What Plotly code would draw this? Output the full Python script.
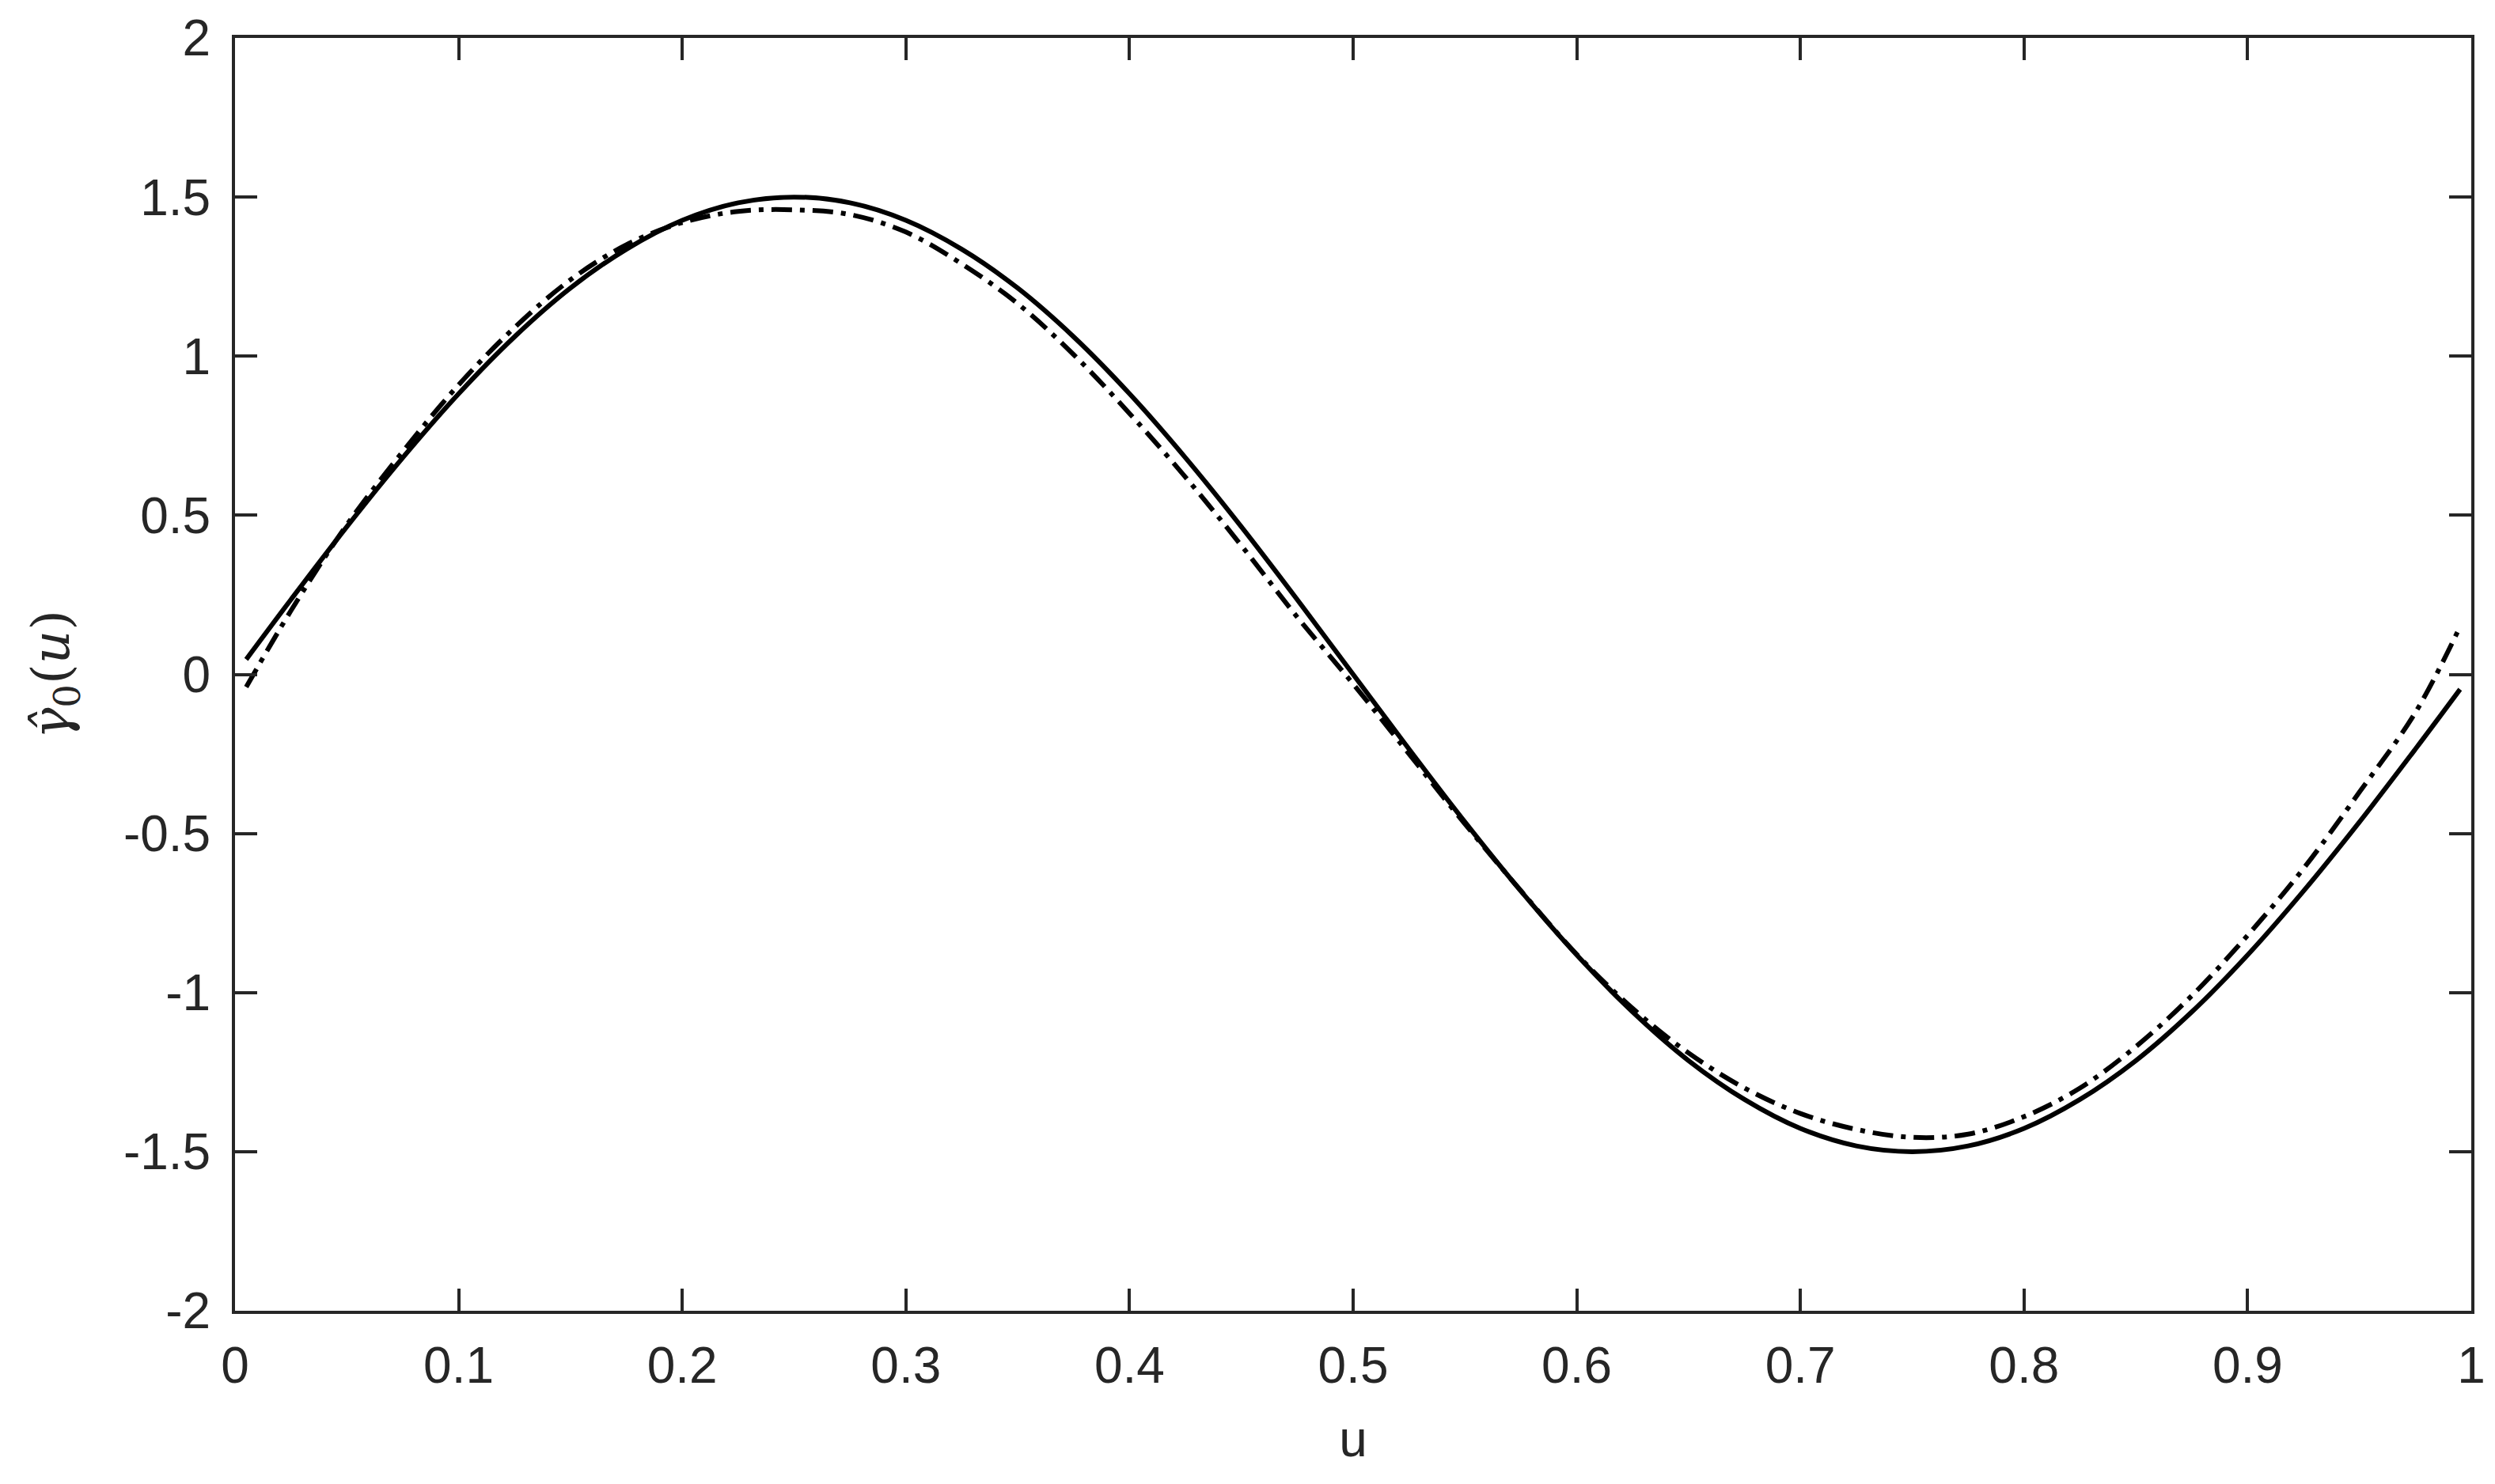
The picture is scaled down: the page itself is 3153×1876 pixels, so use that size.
import plotly.graph_objects as go

u = [0.005, 0.025, 0.05, 0.075, 0.1, 0.125, 0.15, 0.175, 0.2, 0.225, 0.25,
     0.275, 0.3, 0.325, 0.35, 0.375, 0.4, 0.425, 0.45, 0.475, 0.5,
     0.525, 0.55, 0.575, 0.6, 0.625, 0.65, 0.675, 0.7, 0.725, 0.75,
     0.775, 0.8, 0.825, 0.85, 0.875, 0.9, 0.925, 0.95, 0.975, 0.995]

gamma_true = [0.047, 0.235, 0.464, 0.681, 0.882, 1.061, 1.214, 1.336, 1.427, 1.482, 1.5,
              1.482, 1.427, 1.336, 1.214, 1.061, 0.882, 0.681, 0.464, 0.235, 0.0,
              -0.235, -0.464, -0.681, -0.882, -1.061, -1.214, -1.336, -1.427, -1.482, -1.5,
              -1.482, -1.427, -1.336, -1.214, -1.061, -0.882, -0.681, -0.464, -0.235, -0.047]

gamma_est = [-0.04, 0.20, 0.47, 0.70, 0.91, 1.09, 1.24, 1.35, 1.42, 1.455, 1.46,
             1.445, 1.39, 1.29, 1.165, 1.005, 0.82, 0.62, 0.405, 0.18, -0.03,
             -0.25, -0.47, -0.68, -0.88, -1.05, -1.19, -1.30, -1.38, -1.43, -1.455,
             -1.445, -1.39, -1.30, -1.17, -1.01, -0.82, -0.61, -0.37, -0.12, 0.15]

x_ticks = [0, 0.1, 0.2, 0.3, 0.4, 0.5, 0.6, 0.7, 0.8, 0.9, 1]
x_labels = ["0", "0.1", "0.2", "0.3", "0.4", "0.5", "0.6", "0.7", "0.8", "0.9", "1"]
y_ticks = [-2, -1.5, -1, -0.5, 0, 0.5, 1, 1.5, 2]
y_labels = ["-2", "-1.5", "-1", "-0.5", "0", "0.5", "1", "1.5", "2"]

AX = "#262626"
FONT = "Liberation Sans, Arial, sans-serif"
FS = 64

fig = go.Figure()
fig.add_trace(go.Scatter(x=u, y=gamma_true, mode="lines", line_shape="spline",
                         line=dict(color="black", width=6), showlegend=False))
fig.add_trace(go.Scatter(x=u, y=gamma_est, mode="lines", line_shape="spline",
                         line=dict(color="black", width=6, dash="26px,10px,6px,10px"),
                         showlegend=False))

fig.update_layout(
    width=3153, height=1876,
    margin=dict(l=297, r=26, t=38, b=219),
    paper_bgcolor="white", plot_bgcolor="white",
    font=dict(family=FONT, size=FS, color=AX),
    showlegend=False,
)
fig.update_xaxes(
    range=[0, 1], tickvals=x_ticks, ticktext=x_labels,
    showgrid=False, zeroline=False,
    showline=True, linecolor=AX, linewidth=4, mirror="ticks",
    ticks="inside", ticklen=28, tickwidth=4, tickcolor=AX,
    ticklabelstandoff=10,
    tickfont=dict(family=FONT, size=FS, color=AX),
    title=dict(text="u", font=dict(family=FONT, size=FS, color=AX), standoff=36),
)
fig.update_yaxes(
    range=[-2, 2], tickvals=y_ticks, ticktext=y_labels,
    showgrid=False, zeroline=False,
    showline=True, linecolor=AX, linewidth=4, mirror="ticks",
    ticks="inside", ticklen=28, tickwidth=4, tickcolor=AX,
    ticklabelstandoff=14,
    tickfont=dict(family=FONT, size=FS, color=AX),
    title=dict(text="<i>γ̂</i><sub>0</sub>(<i>u</i>)",
               font=dict(family="DejaVu Serif, serif", size=66, color=AX), standoff=48),
)

fig.write_html("out.html", config={"displayModeBar": False},
               post_script="document.body.style.margin='0';document.body.style.overflow='hidden';")
